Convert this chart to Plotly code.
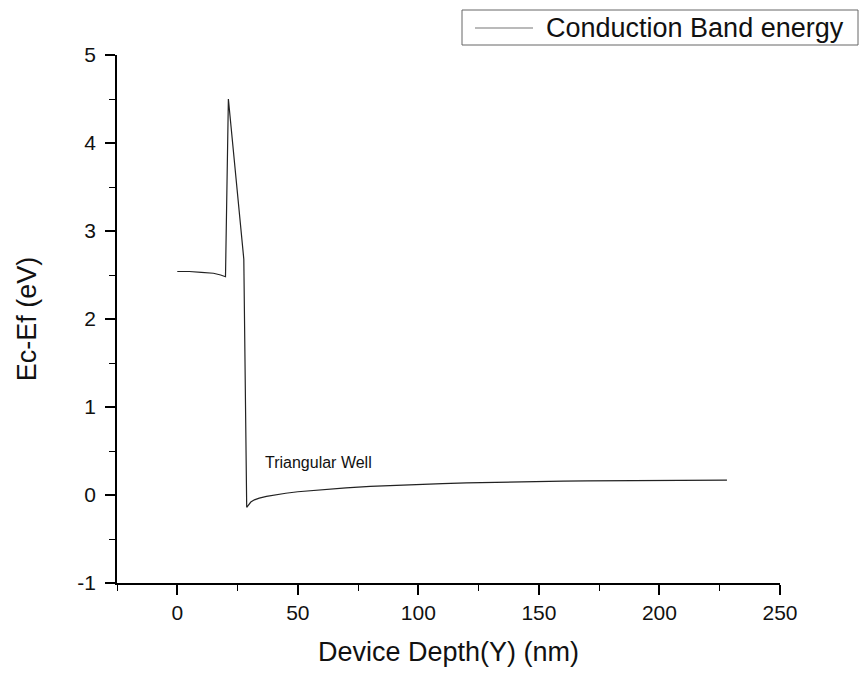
import plotly.graph_objects as go

# Conduction band edge (Ec - Ef) along device depth
depth_nm = [0, 5, 10, 15, 18, 20.0, 21.2, 22.5, 23.7, 25.0, 25.7, 26.5, 27.0, 27.6,
            28.8, 29.5, 30.5, 32, 34, 37, 40, 45, 50, 55, 60, 65, 70, 80, 90, 100, 110,
            120, 130, 140, 150, 160, 170, 180, 190, 200, 210, 220, 228]
ec_minus_ef = [2.54, 2.54, 2.53, 2.52, 2.50, 2.48, 4.50, 4.12, 3.81, 3.44, 3.24, 3.02, 2.84, 2.68,
               -0.14, -0.11, -0.08, -0.055, -0.035, -0.015, 0.00, 0.02, 0.037, 0.05, 0.062, 0.072,
               0.082, 0.097, 0.11, 0.12, 0.13, 0.138, 0.145, 0.15, 0.155, 0.158, 0.161, 0.163,
               0.165, 0.167, 0.168, 0.169, 0.17]

x_ticks = [0, 50, 100, 150, 200, 250]
y_ticks = [-1, 0, 1, 2, 3, 4, 5]
y_tick_text = ["-1", "0", "1", "2", "3", "4", "5"]
series_name = "Conduction Band energy"

FONT = "Arial, Liberation Sans, sans-serif"
INK = "#111111"

# plot area in pixels: x 117..780, y 55..583
W, H = 860, 673
ML, MR, MT, MB = 117, 80, 55, 90
PW, PH = W - ML - MR, H - MT - MB


def px(xp):
    return (xp - ML) / PW


def py(yp):
    return (H - MB - yp) / PH


fig = go.Figure()
fig.add_trace(go.Scatter(
    x=depth_nm, y=ec_minus_ef, mode="lines",
    name=series_name, showlegend=False,
    line=dict(color="#222222", width=1.2),
))

fig.add_annotation(
    x=35.4, y=0.375, xref="x", yref="y", text="Triangular Well",
    showarrow=False, xanchor="left", yanchor="middle",
    font=dict(family=FONT, size=16, color=INK),
)

# boxed key above the top-right corner
fig.add_shape(type="rect", xref="paper", yref="paper",
              x0=px(462), x1=px(858), y0=py(45), y1=py(10),
              line=dict(color="#666666", width=1), fillcolor="white")
fig.add_shape(type="line", xref="paper", yref="paper",
              x0=px(475), x1=px(533), y0=py(28), y1=py(28),
              line=dict(color="#777777", width=1.2))
fig.add_annotation(
    x=px(544), y=py(28), xref="paper", yref="paper", text=series_name,
    showarrow=False, xanchor="left", yanchor="middle",
    font=dict(family=FONT, size=27, color=INK),
)

axis_common = dict(
    showgrid=False, zeroline=False, showline=True, linecolor="black", linewidth=1.5,
    ticks="outside", ticklen=10, tickwidth=1.5, tickcolor="black",
    tickfont=dict(family=FONT, size=21, color=INK),
    mirror=False,
)

fig.update_xaxes(
    range=[-25, 250], tickvals=x_ticks,
    minor=dict(dtick=25, tick0=0, ticks="outside", ticklen=6, tickwidth=1.2, tickcolor="black"),
    title=dict(text="Device Depth(Y) (nm)", font=dict(family=FONT, size=27, color=INK), standoff=19),
    **axis_common,
)
fig.update_yaxes(
    range=[-1, 5], tickvals=y_ticks, ticktext=y_tick_text, ticklabelstandoff=5,
    minor=dict(dtick=0.5, tick0=0, ticks="outside", ticklen=6, tickwidth=1.2, tickcolor="black"),
    title=dict(text="Ec-Ef (eV)", font=dict(family=FONT, size=27, color=INK), standoff=33),
    **axis_common,
)

fig.update_layout(
    width=W, height=H,
    margin=dict(l=ML, r=MR, t=MT, b=MB),
    paper_bgcolor="white", plot_bgcolor="white",
    showlegend=False,
)

fig.write_html("out.html")
